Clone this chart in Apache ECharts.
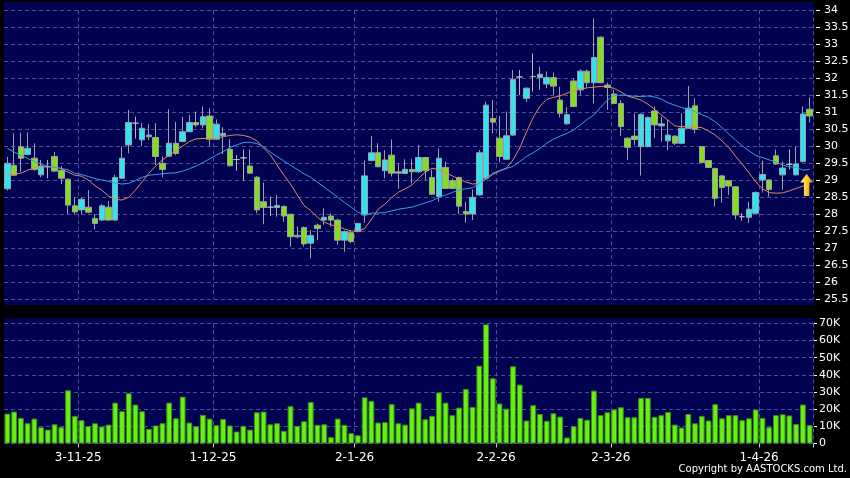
<!DOCTYPE html>
<html>
<head>
<meta charset="utf-8">
<script src="https://cdn.jsdelivr.net/npm/echarts@6/dist/echarts.min.js"></script>
<style>
  html, body { margin: 0; padding: 0; background: #000; }
  #chart { width: 850px; height: 478px; }
</style>
</head>
<body>
<div id="chart"></div>
<script>
// daily prices
const open = [28.75,29.44,29.99,29.76,29.65,29.16,29.40,29.70,29.29,29.03,
  28.25,28.13,28.21,27.88,27.83,28.21,27.83,29.06,30.04,30.68,
  30.19,30.28,30.26,29.50,29.71,30.09,30.14,30.43,30.70,30.63,
  30.89,30.21,30.32,29.91,29.61,29.66,29.42,29.09,28.37,28.21,
  28.20,28.23,28.00,27.34,27.61,27.15,27.68,27.83,27.95,27.83,
  27.24,27.46,27.49,27.98,29.58,29.81,29.28,29.74,29.25,29.20,
  29.32,29.25,29.67,29.08,28.52,29.38,28.99,29.08,28.08,28.01,
  28.57,29.06,30.82,30.24,29.62,30.33,32.04,31.41,32.05,32.02,
  31.83,32.02,31.36,30.66,31.92,31.66,32.21,31.87,33.21,31.80,
  31.54,31.26,30.24,30.30,29.99,29.99,31.04,30.60,30.16,30.30,
  30.09,30.53,31.19,29.99,29.58,29.35,29.13,28.99,28.81,27.93,
  27.91,28.03,29.01,29.01,29.72,29.16,29.47,29.16,29.55,31.09];
const close = [29.50,29.15,29.65,29.94,29.32,29.42,29.40,29.27,29.06,28.27,
  28.07,28.44,28.06,27.73,28.25,27.83,29.08,29.65,30.70,30.68,
  30.53,30.33,29.70,29.32,30.09,29.79,30.43,30.70,30.63,30.87,
  30.21,30.65,30.38,29.43,29.61,29.66,29.21,28.13,28.20,28.21,
  28.26,27.95,27.34,27.38,27.13,27.38,27.58,27.91,27.83,27.24,
  27.49,27.20,27.73,29.13,29.81,29.40,29.60,29.21,29.21,29.32,
  29.25,29.67,29.28,28.59,29.65,28.76,28.76,28.24,28.01,28.50,
  29.81,31.21,30.71,29.70,30.31,31.97,32.04,31.71,32.05,32.12,
  32.02,31.77,30.97,30.93,31.17,32.21,31.87,32.61,31.87,31.73,
  31.26,30.58,29.97,30.20,30.94,30.85,30.63,30.66,30.33,30.09,
  30.53,31.12,30.50,29.52,29.38,28.47,28.79,28.83,27.98,27.93,
  28.15,28.64,29.17,28.73,29.48,29.36,29.47,29.48,30.95,30.89];
const low = [28.70,29.13,29.25,29.74,29.28,29.09,29.06,29.25,28.89,28.01,
  28.01,28.01,28.03,27.56,27.81,27.81,27.81,29.04,29.79,30.23,
  30.01,30.19,29.45,29.09,29.69,29.74,30.12,30.41,30.56,30.53,
  30.01,30.19,29.77,29.40,29.28,28.99,29.19,28.03,27.71,27.95,
  27.93,27.78,27.05,27.29,27.05,26.70,27.24,27.69,27.64,27.10,
  26.90,27.15,27.47,27.75,29.56,29.38,29.06,29.11,28.75,29.18,
  28.91,29.22,29.01,28.58,28.37,28.74,28.74,28.01,27.75,27.83,
  28.55,29.01,30.38,29.52,29.60,30.31,31.51,31.30,31.61,31.66,
  31.71,31.51,30.85,30.63,31.15,31.51,31.73,31.26,31.85,31.07,
  31.24,30.30,29.60,30.04,29.14,29.97,30.24,30.14,29.89,30.04,
  30.07,30.51,30.38,29.50,29.36,28.23,28.34,28.57,27.85,27.81,
  27.75,28.01,28.64,28.52,29.46,28.72,29.32,29.14,29.53,30.70];
const high = [29.69,30.38,30.40,30.41,30.09,29.60,29.60,29.83,29.42,29.06,
  28.50,28.50,28.71,28.01,28.30,28.39,29.16,29.99,31.07,30.87,
  30.68,30.65,30.68,29.70,31.09,30.72,30.87,30.92,31.02,31.17,
  31.12,30.79,30.56,30.21,29.74,29.91,29.91,29.13,28.93,28.52,
  28.57,28.26,28.02,27.64,27.64,27.54,27.73,28.17,28.03,27.87,
  27.52,27.52,27.75,29.58,30.30,30.09,29.89,30.20,29.50,29.62,
  29.62,30.04,29.69,29.30,29.94,29.55,29.05,29.11,28.37,28.73,
  29.89,31.31,31.36,30.89,31.02,32.24,32.24,31.73,32.73,32.34,
  32.20,32.17,31.75,31.15,32.00,32.26,32.26,33.76,33.23,31.87,
  31.66,31.36,30.26,30.97,30.97,30.87,31.17,30.87,30.77,30.33,
  30.97,31.77,31.41,30.01,29.60,29.37,29.16,29.01,28.83,28.03,
  28.37,28.67,29.58,29.03,29.91,29.55,29.91,29.99,31.17,31.44];
// moving averages as drawn (orange short, blue long)
const maShort = [29.16,29.17,29.21,29.30,29.36,29.39,29.40,29.39,29.34,29.24,
  29.15,29.12,29.01,28.84,28.71,28.54,28.44,28.42,28.50,28.71,
  28.96,29.21,29.42,29.60,29.74,29.87,30.01,30.14,30.22,30.23,
  30.23,30.25,30.28,30.32,30.34,30.32,30.27,30.16,29.95,29.75,
  29.45,29.16,28.89,28.57,28.26,28.11,27.91,27.77,27.69,27.64,
  27.57,27.51,27.50,27.58,27.85,28.15,28.30,28.49,28.65,28.75,
  28.86,29.06,29.25,29.35,29.32,29.22,29.13,29.03,28.95,28.89,
  28.91,29.03,29.17,29.27,29.35,29.60,29.95,30.42,30.85,31.18,
  31.38,31.44,31.48,31.56,31.64,31.68,31.72,31.74,31.76,31.77,
  31.70,31.60,31.48,31.42,31.36,31.24,31.09,30.92,30.77,30.60,
  30.58,30.58,30.57,30.55,30.45,30.33,30.16,29.97,29.71,29.48,
  29.22,28.96,28.75,28.64,28.62,28.63,28.69,28.76,28.83,28.89];
const maLong = [29.94,29.83,29.74,29.64,29.56,29.47,29.42,29.38,29.35,29.31,
  29.21,29.17,29.11,29.05,29.01,28.97,28.92,28.89,28.91,28.99,
  29.09,29.15,29.17,29.19,29.21,29.22,29.27,29.34,29.42,29.52,
  29.63,29.74,29.84,29.96,30.04,30.11,30.12,30.08,29.99,29.83,
  29.70,29.57,29.44,29.32,29.19,29.09,28.94,28.80,28.65,28.50,
  28.35,28.21,28.06,27.98,28.03,28.04,28.05,28.10,28.15,28.18,
  28.21,28.27,28.34,28.40,28.50,28.57,28.64,28.72,28.75,28.78,
  28.91,29.07,29.21,29.29,29.35,29.41,29.55,29.70,29.81,29.94,
  30.09,30.21,30.30,30.38,30.48,30.63,30.79,30.92,31.15,31.36,
  31.49,31.51,31.49,31.47,31.46,31.48,31.45,31.39,31.28,31.21,
  31.14,31.09,31.02,30.93,30.85,30.72,30.55,30.36,30.19,30.01,
  29.87,29.73,29.67,29.60,29.54,29.45,29.40,29.38,29.30,29.32];
// volume in thousands
const volume = [17.4,18.6,14.9,11.8,14.5,9.5,8.1,11.2,9.5,31.0,
  16.1,13.6,10.1,11.8,9.9,11.0,23.8,18.8,29.3,22.7,
  18.8,8.5,10.5,11.8,23.8,14.7,27.3,12.2,10.1,16.7,
  14.5,10.7,14.3,10.5,7.0,10.3,8.1,18.2,18.6,11.2,
  11.8,7.4,21.7,10.3,13.0,24.2,10.9,11.2,3.7,14.5,
  10.9,6.0,4.8,26.9,24.8,12.2,12.4,22.9,11.8,11.0,
  20.5,23.8,14.1,16.1,29.7,23.8,16.5,20.9,31.8,21.3,
  45.3,69.4,38.0,23.3,20.3,45.0,34.3,13.4,22.3,17.2,
  13.2,17.6,15.7,3.5,10.1,14.9,13.8,30.8,16.5,18.2,
  19.8,21.1,15.3,15.3,26.6,26.6,15.5,16.5,18.4,11.0,
  9.3,17.2,11.8,16.1,13.4,22.9,14.7,16.5,16.5,13.6,
  14.7,19.8,14.9,9.5,16.5,17.0,16.3,11.4,22.7,10.7];
const arrowPrice = 28.86;

// trading days (HK holidays skipped)
const firstDay = '2025-10-17';
const holidays = ['2025-10-29', '2025-12-25', '2025-12-26', '2026-01-01',
  '2026-02-17', '2026-02-18', '2026-02-19', '2026-04-03', '2026-04-06', '2026-04-07'];

function buildDays(start, n) {
  let days = [];
  let d = new Date(start + 'T00:00:00Z');
  while (days.length < n) {
    let wd = d.getUTCDay();
    let iso = d.toISOString().slice(0, 10);
    if (wd !== 0 && wd !== 6 && holidays.indexOf(iso) < 0) days.push(new Date(d));
    d.setUTCDate(d.getUTCDate() + 1);
  }
  return days;
}
const days = buildDays(firstDay, close.length);
const categories = days.map(d => d.getUTCDate() + '-' + (d.getUTCMonth() + 1) + '-' + String(d.getUTCFullYear()).slice(2));
const monthStart = days.map((d, i) => i > 0 && d.getUTCMonth() !== days[i - 1].getUTCMonth());
// grid lines / ticks sit on the right edge of the first day of a month
const afterMonthStart = (i) => i > 0 && monthStart[i - 1];

const candleData = open.map((o, i) => [o, close[i], low[i], high[i]]);

const gridLine = { color: '#4e4e98', width: 1, type: [4, 3] };
const bandW = 809 / close.length;

let chart = echarts.init(document.getElementById('chart'));
let option = {
  animation: false,
  backgroundColor: '#000',
  textStyle: { fontFamily: 'DejaVu Sans' },
  graphic: [
    { type: 'rect', z: -10, silent: true, shape: { x: 4, y: 2, width: 810, height: 303 }, style: { fill: '#020252' } },
    { type: 'rect', z: -10, silent: true, shape: { x: 4, y: 318, width: 810, height: 126 }, style: { fill: '#020252' } },
    { type: 'text', right: 3, top: 464, silent: true,
      style: { text: 'Copyright by AASTOCKS.com Ltd.', fill: '#fff', font: '10px "DejaVu Sans"' } }
  ],
  grid: [
    { left: 4, right: 37, top: 10.3, bottom: 178.7, outerBoundsMode: 'none' },
    { left: 4, right: 37, top: 323.3, bottom: 34.5, outerBoundsMode: 'none' }
  ],
  xAxis: [
    {
      type: 'category', gridIndex: 0, data: categories, boundaryGap: true,
      axisLine: { show: false }, axisTick: { show: false }, axisLabel: { show: false },
      splitLine: { show: true, interval: afterMonthStart, lineStyle: gridLine }
    },
    {
      type: 'category', gridIndex: 1, data: categories, boundaryGap: true,
      axisLine: { show: false },
      axisTick: { show: true, interval: afterMonthStart, length: 4, lineStyle: { color: '#ccc' } },
      axisLabel: {
        show: true, interval: (i) => monthStart[i], color: '#fff', fontSize: 12, margin: 8,
        padding: [0, 0, 0, bandW]
      },
      splitLine: { show: true, interval: afterMonthStart, lineStyle: gridLine }
    }
  ],
  yAxis: [
    {
      type: 'value', gridIndex: 0, position: 'right', min: 25.5, max: 34, interval: 0.5, offset: 3,
      axisLine: { show: false },
      axisTick: { show: true, length: 4, lineStyle: { color: '#fff' } },
      axisLabel: { color: '#fff', fontSize: 11, margin: 8 },
      splitLine: { show: true, lineStyle: gridLine }
    },
    {
      type: 'value', gridIndex: 1, position: 'right', min: 0, max: 70, interval: 10, offset: 1,
      axisLine: { show: false },
      axisTick: { show: true, length: 3, lineStyle: { color: '#fff' } },
      axisLabel: { color: '#fff', fontSize: 11, margin: 5, formatter: v => v === 0 ? '0' : v + 'K' },
      splitLine: { show: true, lineStyle: gridLine }
    }
  ],
  series: [
    {
      name: 'price', type: 'candlestick', xAxisIndex: 0, yAxisIndex: 0,
      data: candleData, barWidth: 6,
      itemStyle: {
        color: '#2fe4ee', color0: '#84de1f',
        borderColor: '#98a2a8', borderColor0: '#98a2a8', borderColorDoji: '#b8b8b8',
        borderWidth: 1
      },
      markPoint: {
        silent: true,
        symbol: 'path://M6,0 L12,8 L8.5,8 L8.5,21 L3.5,21 L3.5,8 L0,8 Z',
        symbolSize: [13, 22],
        label: { show: false },
        itemStyle: {
          color: new echarts.graphic.LinearGradient(0, 0, 1, 0, [
            { offset: 0, color: '#fff3b0' }, { offset: 0.45, color: '#ffcf2a' }, { offset: 1, color: '#d69600' }
          ])
        },
        data: [{ coord: [categories[categories.length - 1], arrowPrice], symbolOffset: [-3, 0] }]
      }
    },
    {
      name: 'MA short', type: 'line', xAxisIndex: 0, yAxisIndex: 0, data: maShort,
      symbol: 'none', z: 3, silent: true, lineStyle: { color: '#e08a5a', width: 1 }
    },
    {
      name: 'MA long', type: 'line', xAxisIndex: 0, yAxisIndex: 0, data: maLong,
      symbol: 'none', z: 3, silent: true, lineStyle: { color: '#3a9fe2', width: 1 }
    },
    {
      name: 'volume', type: 'bar', xAxisIndex: 1, yAxisIndex: 1, data: volume,
      barWidth: '86%',
      itemStyle: { color: '#66f014', borderColor: '#3a8e10', borderWidth: 1 }
    }
  ]
};
chart.setOption(option);
</script>
</body>
</html>
